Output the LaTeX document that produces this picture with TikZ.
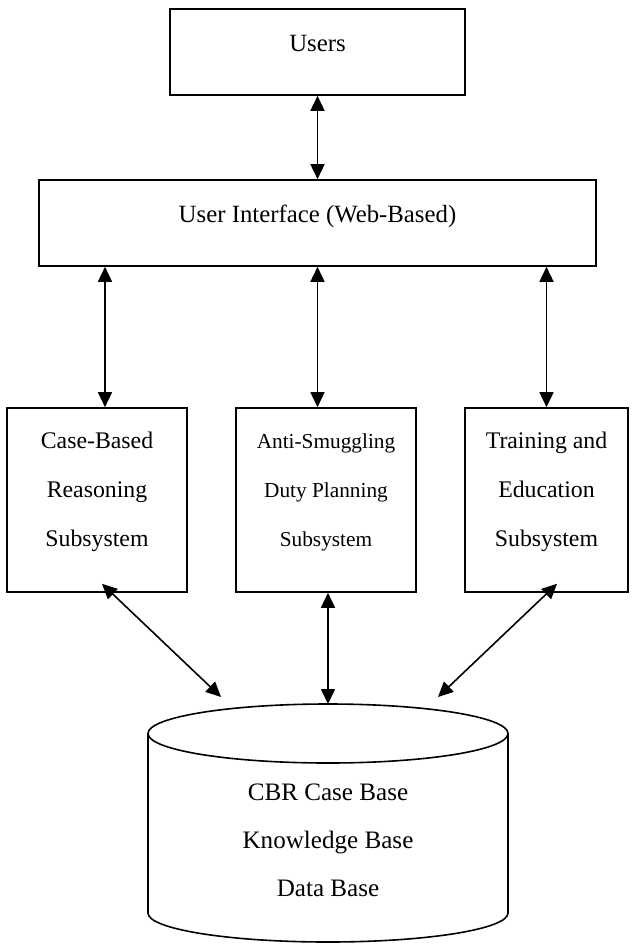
\documentclass[tikz,border=0pt]{standalone}
\usepackage{fontspec}
\setmainfont{Liberation Serif}
\usetikzlibrary{arrows.meta, positioning, calc}

\begin{document}
\begin{tikzpicture}[x=1pt, y=1pt, line width=1.6pt,
  box/.style={rectangle, draw, align=center},
  topbox/.style={box, minimum height=86pt, text height=17pt, text depth=19pt, font=\fontsize{24.8}{30}\selectfont},
  subbox/.style={box, minimum width=180pt, minimum height=184pt, text height=110pt, text depth=18pt, font=\fontsize{23.8}{49}\selectfont},
  link/.style={{Triangle[length=15pt,width=14pt]}-{Triangle[length=15pt,width=14pt]}}]
\useasboundingbox (0,0) rectangle (632,-945);

% top: users and the web front end
\node[topbox, minimum width=295pt] (users) at (317.5,-52) {Users};
\node[topbox, minimum width=557pt] (ui) at (317.5,-223) {User Interface (Web-Based)};

% the three subsystems
\node[subbox] (cbr) at (97,-500) {Case-Based\\Reasoning\\Subsystem};
\node[subbox, font=\fontsize{21.3}{49}\selectfont] (anti) at (326,-500) {Anti-Smuggling\\Duty Planning\\Subsystem};
\node[subbox, minimum width=163pt] (train) at (546.5,-500) {Training and\\Education\\Subsystem};

% database cylinder
\draw (148,-733.5) -- (148,-913) arc[start angle=180, end angle=360, x radius=180, y radius=29] -- (508,-733.5);
\draw (328,-733.5) ellipse[x radius=180, y radius=29.5];
\node[align=center, font=\fontsize{25.1}{48}\selectfont] (db) at (328,-840.5) {CBR Case Base\\Knowledge Base\\Data Base};
\coordinate (db-l) at (221,-697);
\coordinate (db-m) at (328,-704);
\coordinate (db-r) at (438,-697);

% connectors
\draw[link] (users) -- (ui);
\draw[link] ([xshift=8pt]ui.south -| cbr.north) -- ([xshift=8pt]cbr.north);
\draw[link] (ui.south) -- (ui.south |- anti.north);
\draw[link] (ui.south -| train.north) -- (train.north);
\draw[link] ([shift={(5pt,9pt)}]cbr.south) -- (db-l);
\draw[link] (anti.south -| db-m) -- (db-m);
\draw[link] ([shift={(10.5pt,9pt)}]train.south) -- (db-r);
\end{tikzpicture}
\end{document}
